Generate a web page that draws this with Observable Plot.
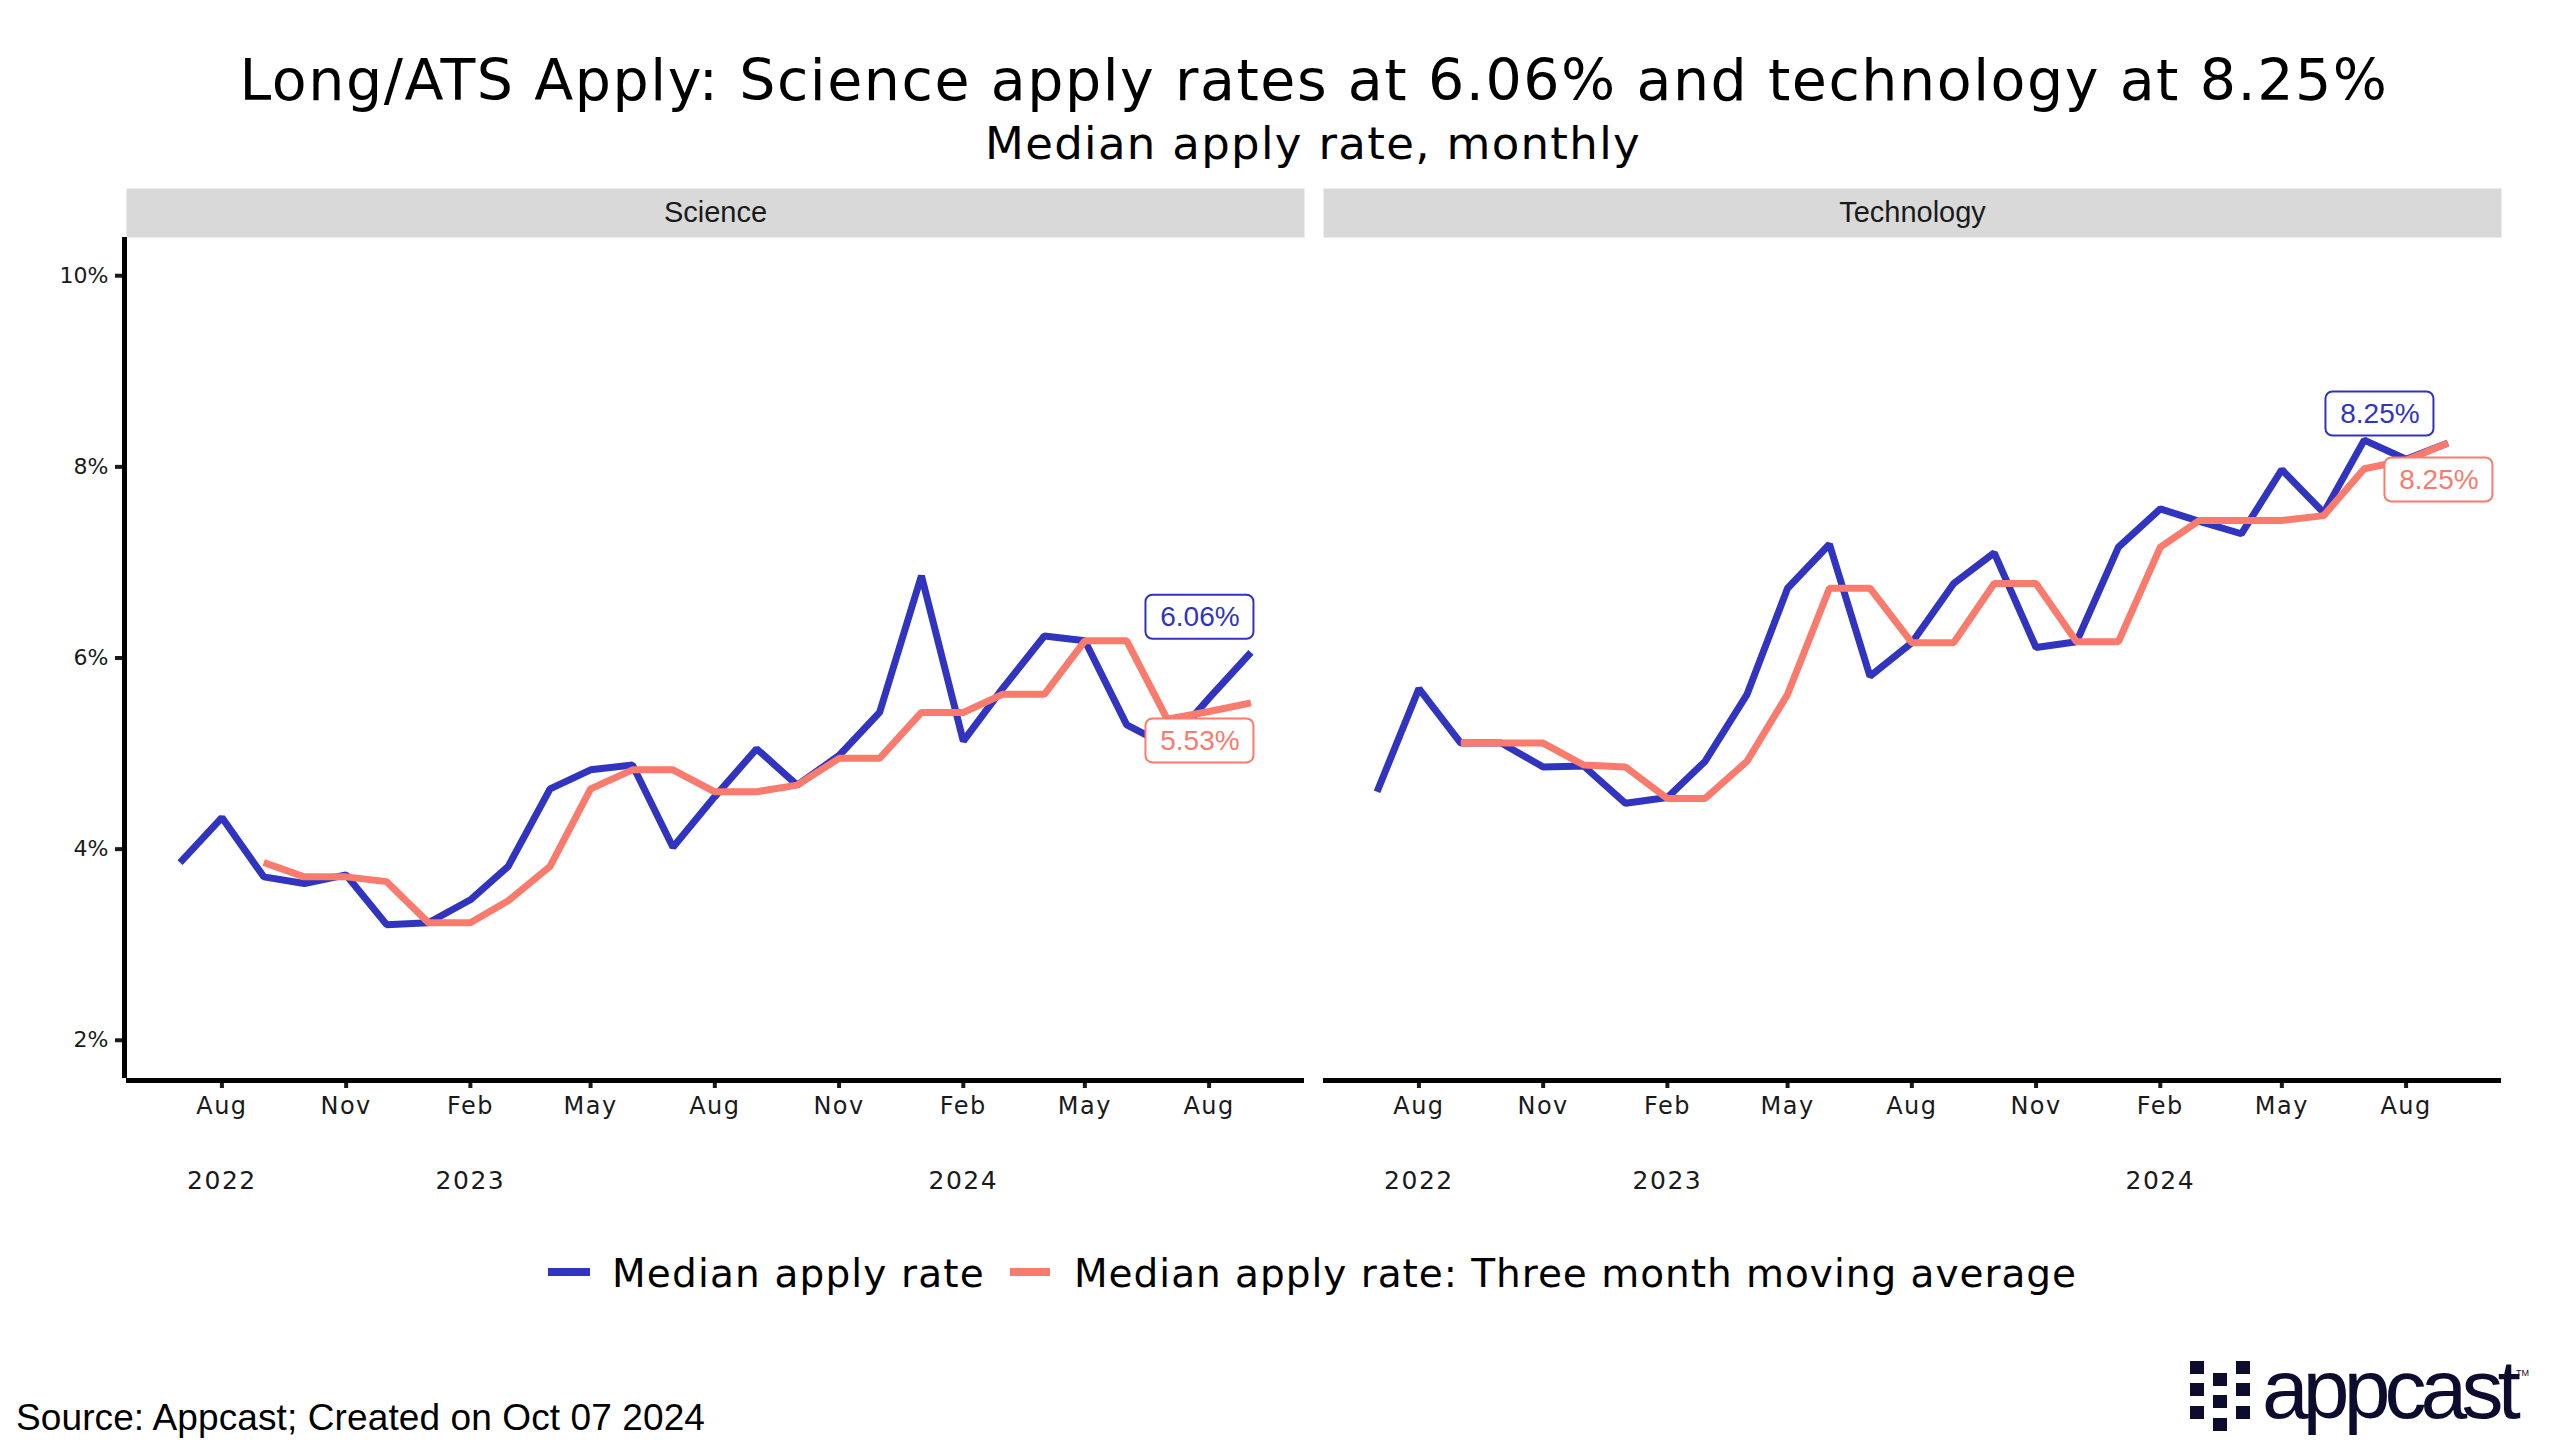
<!DOCTYPE html>
<html>
<head>
<meta charset="utf-8">
<script src="https://cdn.jsdelivr.net/npm/d3@7"></script>
<script src="https://cdn.jsdelivr.net/npm/@observablehq/plot@0.6"></script>
<style>
  html, body { margin: 0; padding: 0; background: #fff; }
  body { width: 2560px; height: 1455px; position: relative; overflow: hidden; }
  .abs { position: absolute; white-space: nowrap; line-height: 1; }
  .wide { font-family: "DejaVu Sans", sans-serif; color: #000; }
  .sq { position: absolute; width: 14px; height: 13px; background: #0c0c2e; }
  #chart { position: absolute; left: 0; top: 160px; }
  #chart g[aria-label="x-axis tick label"] text { letter-spacing: 1.5px; }
</style>
</head>
<body>
<div id="title" class="abs wide" style="font-size:57px; top:52px;">Long/ATS Apply: Science apply rates at 6.06% and technology at 8.25%</div>
<div id="subtitle" class="abs wide" style="font-size:45px; top:121px;">Median apply rate, monthly</div>
<div id="chart"></div>
<div id="legend"></div>
<div id="caption" class="abs" style="font-family:'Liberation Sans', Arial, sans-serif; font-size:37px; left:16px; top:1399px; color:#000;">Source: Appcast; Created on Oct 07 2024</div>
<div id="logo"></div>
<script>
// ---------------- data ----------------
const months = [
  "2022-07","2022-08","2022-09","2022-10","2022-11","2022-12",
  "2023-01","2023-02","2023-03","2023-04","2023-05","2023-06",
  "2023-07","2023-08","2023-09","2023-10","2023-11","2023-12",
  "2024-01","2024-02","2024-03","2024-04","2024-05","2024-06",
  "2024-07","2024-08","2024-09"
];
const panels = ["Science", "Technology"];
const seriesNames = ["Median apply rate", "Median apply rate: Three month moving average"];

const scienceRate = [3.86, 4.33, 3.71, 3.64, 3.73, 3.21, 3.23, 3.47, 3.82, 4.63, 4.83, 4.88,
                     4.02, 4.55, 5.05, 4.67, 4.98, 5.43, 6.86, 5.13, 5.68, 6.23, 6.18, 5.30,
                     5.08, 5.58, 6.06];
const scienceAvg  = [null, null, 3.86, 3.71, 3.71, 3.66, 3.23, 3.23, 3.46, 3.82, 4.63, 4.83,
                     4.83, 4.60, 4.60, 4.67, 4.95, 4.95, 5.43, 5.43, 5.62, 5.62, 6.18, 6.18,
                     5.36, 5.44, 5.53];
const techRate    = [4.60, 5.68, 5.11, 5.11, 4.86, 4.87, 4.48, 4.54, 4.92, 5.62, 6.73, 7.19,
                     5.81, 6.16, 6.78, 7.10, 6.11, 6.17, 7.16, 7.56, 7.43, 7.30, 7.97, 7.52,
                     8.28, 8.08, 8.25];
const techAvg     = [null, null, 5.11, 5.11, 5.11, 4.88, 4.86, 4.53, 4.53, 4.92, 5.62, 6.73,
                     6.73, 6.16, 6.16, 6.78, 6.78, 6.17, 6.17, 7.16, 7.44, 7.44, 7.44, 7.49,
                     7.98, 8.07, 8.25];

const yTicks = [2, 4, 6, 8, 10];
const monthTicks = ["2022-08","2022-11","2023-02","2023-05","2023-08","2023-11","2024-02","2024-05","2024-08"];
const yearTicks = ["2022-08","2023-02","2024-02"];

// ---------------- styles ----------------
const BLUE = "#3034BF";
const SALMON = "#F97B6D";
const colors = [BLUE, SALMON];
const labelOffsets = [[-51, -35], [-51, 38], [-68, -29], [-9, 37]]; // per label, pixels

// ---------------- build rows ----------------
const parse = d3.utcParse("%Y-%m");
const rates = {Science: scienceRate, Technology: techRate};
const avgs = {Science: scienceAvg, Technology: techAvg};
const rows = [];
for (const p of panels) {
  months.forEach((m, i) => {
    rows.push({panel: p, date: parse(m), series: seriesNames[0], value: rates[p][i]});
    if (avgs[p][i] != null) rows.push({panel: p, date: parse(m), series: seriesNames[1], value: avgs[p][i]});
  });
}
const labels = [];
for (const p of panels) {
  for (const s of seriesNames) {
    const r = rows.filter(d => d.panel === p && d.series === s);
    const last = r[r.length - 1];
    labels.push({...last, text: last.value.toFixed(2) + "%"});
  }
}

const x0 = parse(months[0]), x1 = parse(months[months.length - 1]);
const pad = (x1 - x0) * 0.05;
const xDomain = [new Date(+x0 - pad), new Date(+x1 + pad)];

const W = 2560, H = 1060, MT = 77, MB = 142, ML = 126, MR = 59;
const panelH = H - MT - MB;

const labelMarks = [];
labels.forEach((lab, i) => {
  const c = lab.series === seriesNames[0] ? BLUE : SALMON;
  const [dx, dy] = labelOffsets[i];
  labelMarks.push(Plot.rect([lab], {
    x1: "date", x2: "date", y1: "value", y2: "value", fx: "panel",
    insetLeft: -54, insetRight: -54, insetTop: -22, insetBottom: -22,
    dx, dy, fill: "white", stroke: c, strokeWidth: 2, rx: 7
  }));
  labelMarks.push(Plot.text([lab], {
    x: "date", y: "value", fx: "panel", text: "text", dx, dy,
    fill: c, fontSize: 28, fontFamily: "Liberation Sans, Arial, sans-serif"
  }));
});

const chart = Plot.plot({
  width: W, height: H,
  marginTop: MT, marginBottom: MB, marginLeft: ML, marginRight: MR,
  style: {background: "transparent", overflow: "visible", fontFamily: "DejaVu Sans, sans-serif", fontSize: "22px"},
  fx: {domain: panels, paddingInner: 0.016, paddingOuter: 0, axis: null, label: null},
  x: {type: "utc", domain: xDomain},
  y: {domain: [1.6, 10.4]},
  marks: [
    Plot.frame({fill: "#d9d9d9", stroke: null, insetTop: -49, insetBottom: panelH}),
    Plot.text(panels, {fx: d => d, text: d => d, frameAnchor: "top", lineAnchor: "middle", dy: -24.5,
      fontSize: 29, fontFamily: "Liberation Sans, Arial, sans-serif", fill: "#1a1a1a"}),
    Plot.axisY(yTicks, {tickFormat: d => d + "%", tickSize: 11, tickPadding: 7, strokeWidth: 4,
      fontSize: 22, fontFamily: "DejaVu Sans, sans-serif", color: "#1a1a1a", label: null}),
    Plot.axisX(monthTicks.map(parse), {tickFormat: "%b", tickSize: 10, tickPadding: 8, strokeWidth: 4,
      fontSize: 24, fontFamily: "DejaVu Sans, sans-serif", color: "#1a1a1a", label: null}),
    Plot.axisX(yearTicks.map(parse), {tickFormat: "%Y", tickSize: 0, tickPadding: 93,
      fontSize: 25, fontFamily: "DejaVu Sans, sans-serif", color: "#1a1a1a", label: null}),
    Plot.line(rows.filter(d => d.series === seriesNames[0]), {
      x: "date", y: "value", fx: "panel", stroke: BLUE, strokeWidth: 7, strokeLinejoin: "miter", strokeLinecap: "butt"}),
    Plot.line(rows.filter(d => d.series === seriesNames[1]), {
      x: "date", y: "value", fx: "panel", stroke: SALMON, strokeWidth: 7, strokeLinejoin: "miter", strokeLinecap: "butt"}),
    ...labelMarks,
    Plot.ruleY([1.6], {dy: 2, stroke: "#000", strokeWidth: 5}),
    Plot.ruleX([xDomain[0]], {fx: () => panels[0], dx: -2, stroke: "#000", strokeWidth: 5})
  ]
});
document.getElementById("chart").appendChild(chart);

// ---------------- legend ----------------
const legend = document.getElementById("legend");
const legendItems = [
  {name: seriesNames[0], color: colors[0], sx: 548, sw: 42, tx: 612, tw: 373},
  {name: seriesNames[1], color: colors[1], sx: 1010, sw: 40, tx: 1074, tw: 1003}
];
for (const it of legendItems) {
  const sw = document.createElement("div");
  sw.style.cssText = `position:absolute;left:${it.sx}px;top:1268px;width:${it.sw}px;height:8px;background:${it.color}`;
  legend.appendChild(sw);
  const t = document.createElement("div");
  t.className = "abs wide";
  t.style.cssText += `font-size:39px;left:${it.tx}px;top:1254px;`;
  t.textContent = it.name;
  legend.appendChild(t);
  fitWidth(t, it.tw);
}

function fitWidth(el, target) {
  const w = el.getBoundingClientRect().width;
  const n = el.textContent.length;
  el.style.letterSpacing = ((target - w) / n) + "px";
}
function centerAt(el, cx, target) {
  fitWidth(el, target);
  const w = el.getBoundingClientRect().width;
  el.style.left = (cx - w / 2) + "px";
}
centerAt(document.getElementById("title"), 1314, 2149);
centerAt(document.getElementById("subtitle"), 1313, 656);
fitWidth(document.getElementById("caption"), 689);

// ---------------- logo ----------------
const logo = document.getElementById("logo");
const sqs = [
  [2190, 1361], [2190, 1383], [2190, 1406],
  [2213, 1373], [2213, 1395], [2213, 1418],
  [2236, 1361], [2236, 1383], [2236, 1406]
];
for (const [x, y] of sqs) {
  const s = document.createElement("div");
  s.className = "sq";
  s.style.left = x + "px"; s.style.top = y + "px";
  logo.appendChild(s);
}
const lt = document.createElement("div");
lt.className = "abs";
lt.style.cssText += "font-family:'Liberation Sans', Arial, sans-serif;font-size:84px;color:#0c0c2e;left:2262px;top:1347px;";
lt.textContent = "appcast";
logo.appendChild(lt);
fitWidth(lt, 253);
const tm = document.createElement("div");
tm.className = "abs";
tm.style.cssText += "font-family:'Liberation Sans', Arial, sans-serif;font-size:9px;color:#0c0c2e;left:2516px;top:1369px;";
tm.textContent = "TM";
logo.appendChild(tm);
</script>
</body>
</html>
